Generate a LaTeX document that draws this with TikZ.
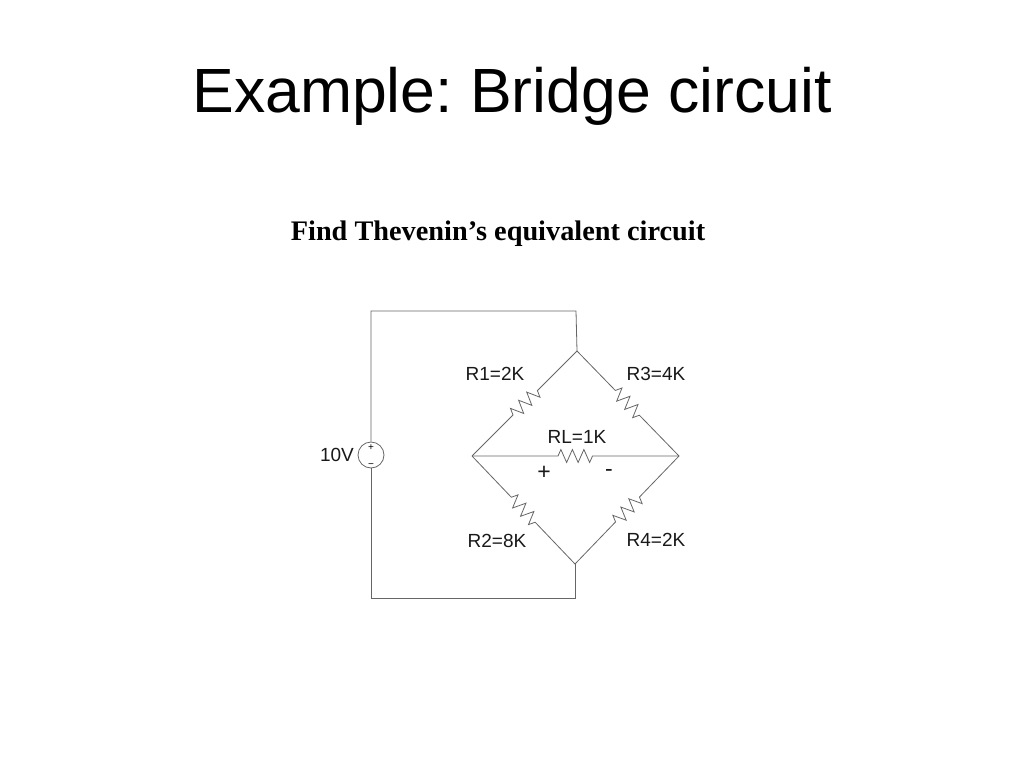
\documentclass[tikz,border=0pt]{standalone}
\usepackage{fontspec}
\setmainfont{Liberation Sans}
\newfontfamily\headfont{Liberation Serif}
\usetikzlibrary{positioning,decorations.pathmorphing}
\frenchspacing
\tikzset{
  wire/.style={draw=black!60, line width=0.8pt},
  res/.style={wire, decorate, decoration={zigzag, segment length=11.5pt, amplitude=6.5pt, pre length=#1, post length=#1}},
  lbl/.style={font=\fontsize{19}{22}\selectfont, text=black!90, inner sep=0pt},
  polarity/.style={font=\fontsize{10}{10}\selectfont, inner sep=0pt}
}
\begin{document}
\begin{tikzpicture}[x=1pt,y=-1pt]
    \useasboundingbox[fill=white] (0,0) rectangle (1024,768);
    \node [inner sep=0pt, font=\fontsize{62.5}{70}\selectfont] (title) at (512,96) {Example: Bridge circuit};
    \node [inner sep=0pt, font=\headfont\bfseries\fontsize{28.3}{32}\selectfont] (task) at (498,234) {Find Thevenin’s equivalent circuit};
    % bridge corners
    \coordinate (T) at (577,351);
    \coordinate (B) at (575,564);
    \coordinate (L) at (472,456);
    \coordinate (R) at (679,456);
    \coordinate (TW) at (576,311);
    \coordinate (BW) at (575,598);
    \node [circle, wire, minimum size=26pt, inner sep=0pt] (V) at (371,455) {};
    \node [polarity] (Vp) at (371,448) {+};
    \node [polarity] (Vm) at (371,466) {\textminus};
    \draw [wire] (V.north) |- (TW) -- (T);
    \draw [wire] (V.south) |- (BW) -- (B);
    \draw [res=56pt] (T) -- (L);
    \draw [res=55pt] (T) -- (R);
    \draw [res=57pt] (L) -- (B);
    \draw [res=57pt] (R) -- (B);
    \draw [res=86pt] (L) -- (R);
    \node [lbl] (lR1) at (495,374) {R1=2K};
    \node [lbl] (lR3) at (656,374) {R3=4K};
    \node [lbl] (lRL) at (577,437) {RL=1K};
    \node [lbl] (lR2) at (497,541) {R2=8K};
    \node [lbl] (lR4) at (656,540) {R4=2K};
    \node [lbl] (lV) at (337,455) {10V};
    \node [lbl, font=\fontsize{23}{23}\selectfont] (plus) at (544,473) {+};
    \node [lbl, font=\fontsize{23}{23}\selectfont] (minus) at (609,473) {-};
\end{tikzpicture}
\end{document}
